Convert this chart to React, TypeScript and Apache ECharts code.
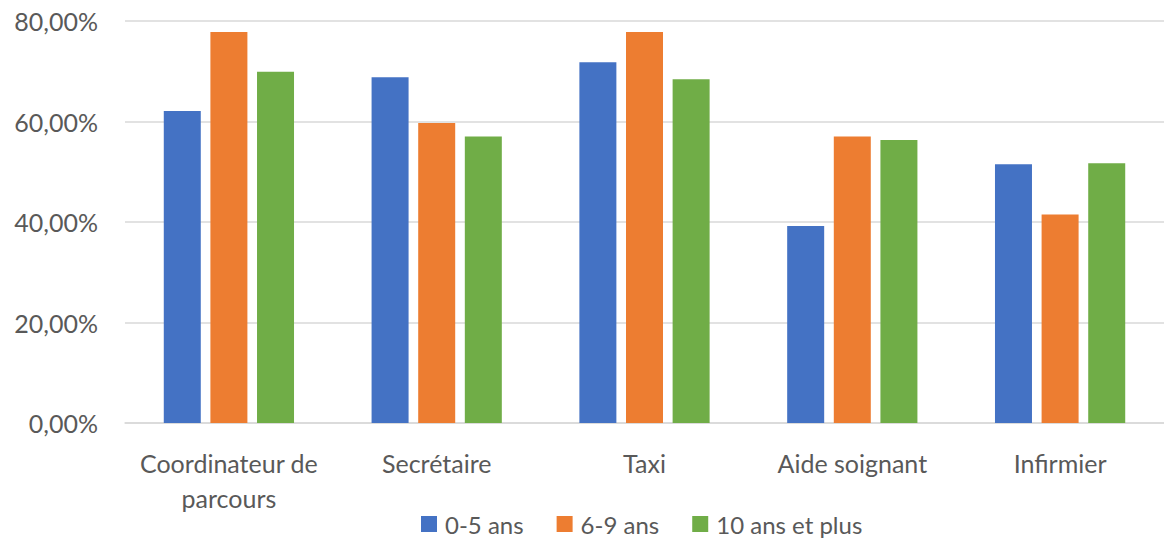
import React, { useEffect, useRef } from "react";
import * as echarts from "echarts";

const categories = ["Coordinateur de parcours", "Secrétaire", "Taxi", "Aide soignant", "Infirmier"];
const seriesNames = ["0-5 ans", "6-9 ans", "10 ans et plus"];
const values0to5 = [62.1, 68.8, 71.8, 39.2, 51.5];
const values6to9 = [77.8, 59.7, 77.8, 57.0, 41.5];
const values10plus = [69.9, 57.0, 68.4, 56.3, 51.7];
const colors = ["#4472C4", "#ED7D31", "#70AD47"];

const FONT = "Lato, 'Open Sans', sans-serif";

export default function App() {
  const ref = useRef<HTMLDivElement>(null);
  useEffect(() => {
    if (!ref.current) return;
    const chart = echarts.init(ref.current, undefined, { renderer: "svg" });
    const data = [values0to5, values6to9, values10plus];
    chart.setOption({
      animation: false,
      textStyle: { fontFamily: FONT },
      grid: { left: 125, right: -6, top: 21, bottom: 117, containLabel: false },
      legend: {
        top: 512,
        left: 421,
        padding: 0,
        itemWidth: 16,
        itemHeight: 16,
        itemGap: 33,
        icon: "rect",
        textStyle: {
          fontSize: 24,
          lineHeight: 24,
          color: "#595959",
          fontFamily: FONT,
          padding: [0, 0, 0, 3],
        },
        data: seriesNames,
      },
      xAxis: {
        type: "category",
        data: categories,
        axisLine: { show: true, lineStyle: { color: "#d9d9d9", width: 1.5 } },
        axisTick: { show: false },
        axisLabel: {
          interval: 0,
          color: "#595959",
          fontSize: 25,
          margin: 22,
          lineHeight: 35,
          fontFamily: FONT,
          formatter: (v: string) => v.replace(" de ", " de\n"),
        },
      },
      yAxis: {
        type: "value",
        min: 0,
        max: 80,
        interval: 20,
        axisLine: { show: false },
        axisTick: { show: false },
        splitLine: { lineStyle: { color: "#d9d9d9", width: 1.5 } },
        axisLabel: {
          color: "#595959",
          fontSize: 25,
          margin: 27,
          fontFamily: FONT,
          formatter: (v: number) => v.toFixed(2).replace(".", ",") + "%",
        },
      },
      series: seriesNames.map((name, i) => ({
        name,
        type: "bar",
        data: data[i],
        barWidth: 37,
        barGap: "26%",
        itemStyle: { color: colors[i] },
      })),
    });
    return () => chart.dispose();
  }, []);
  return (
    <div
      ref={ref}
      style={{ position: "fixed", left: 0, top: 0, width: 1164, height: 540, background: "#fff" }}
    />
  );
}
